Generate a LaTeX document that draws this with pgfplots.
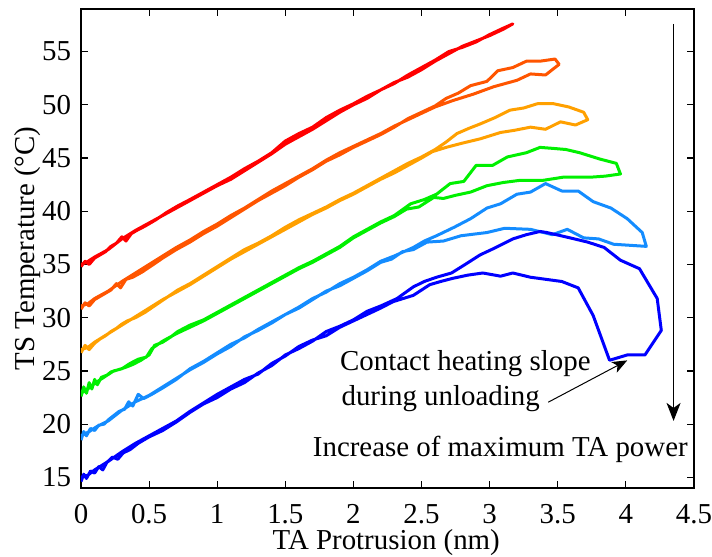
\documentclass[border=0pt]{standalone}
\usepackage{fontspec}
\setmainfont{Liberation Serif}
\usepackage{pgfplots}
\pgfplotsset{compat=1.18}
\usetikzlibrary{arrows.meta}
\definecolor{cR}{HTML}{FF0000}
\definecolor{cRO}{HTML}{FF5500}
\definecolor{cO}{HTML}{FFA000}
\definecolor{cG}{HTML}{00F000}
\definecolor{cLB}{HTML}{148CFF}
\definecolor{cB}{HTML}{0000FF}
\begin{document}
\fontsize{14.5}{17.4}\selectfont
\begin{tikzpicture}
\begin{axis}[
    name=ax,
    scale only axis, width=306.5bp, height=239.5bp,
    xmin=0, xmax=4.5, ymin=14, ymax=59,
    xtick={0,0.5,...,4.5}, ytick={15,20,...,55},
    tick align=inside, major tick length=3.5bp,
    axis line style={line width=0.8pt},
    every tick/.style={black, line width=0.6pt},
    /pgf/number format/assume math mode=true,
    xticklabel={\pgfmathprintnumber{\tick}},
    yticklabel={\pgfmathprintnumber{\tick}},
    xticklabel style={yshift=-3bp},
    xlabel={TA Protrusion (nm)},
    ylabel={TS Temperature (°C)},
    xlabel style={at={(axis description cs:0.498,-0.114)}, anchor=center},
    ylabel style={at={(axis description cs:-0.0865,0.5)}, anchor=center},
    every axis plot/.append style={line width=1.5bp, line join=round, no markers},
]
% red
\addplot[cR] coordinates {
(0,34.8)(0.03,35.3)(0.06,35.0)(0.1,35.6)(0.14,35.9)(0.18,36.2)(0.22,36.7)(0.26,37.0)(0.30,37.6)(0.33,37.2)(0.37,37.9)(0.41,38.2)(0.47,38.6)(0.55,39.2)(0.63,39.9)(0.71,40.5)(0.80,41.1)(0.90,41.8)(1.00,42.5)(1.10,43.2)(1.20,44.0)(1.30,44.7)(1.40,45.5)(1.50,46.6)(1.60,47.3)(1.70,47.9)(1.80,48.8)(1.90,49.5)(2.00,50.1)(2.10,50.8)(2.20,51.4)(2.30,52.0)(2.40,52.8)(2.50,53.5)(2.60,54.2)(2.70,55.0)(2.80,55.4)(2.90,55.9)(3.00,56.6)(3.10,57.2)(3.17,57.6)
(3.10,57.1)(3.00,56.5)(2.90,56.0)(2.80,55.5)(2.70,54.8)(2.60,54.1)(2.50,53.3)(2.40,52.6)(2.30,52.1)(2.20,51.4)(2.10,50.6)(2.00,50.0)(1.90,49.3)(1.80,48.5)(1.70,47.7)(1.60,47.0)(1.50,46.3)(1.40,45.4)(1.30,44.6)(1.20,43.8)(1.10,43.0)(1.00,42.4)(0.90,41.7)(0.80,41.0)(0.70,40.3)(0.60,39.6)(0.50,38.9)(0.40,38.2)(0.30,37.4)(0.20,36.4)(0.10,35.7)(0.04,35.2)(0,35.0)
};
% orange-red
\addplot[cRO] coordinates {
(0,30.8)(0.03,31.4)(0.06,31.1)(0.1,31.7)(0.14,32.0)(0.18,32.3)(0.22,32.6)(0.26,33.2)(0.29,32.8)(0.33,33.6)(0.38,33.8)(0.45,34.3)(0.52,34.9)(0.60,35.6)(0.70,36.4)(0.80,37.1)(0.90,37.9)(1.00,38.6)(1.10,39.4)(1.20,40.2)(1.30,41.0)(1.40,41.7)(1.50,42.4)(1.60,43.2)(1.70,43.9)(1.80,44.7)(1.90,45.3)(2.00,46.0)(2.10,46.6)(2.20,47.2)(2.30,47.9)(2.40,48.7)(2.50,49.3)(2.60,49.9)(2.68,50.6)(2.77,51.1)(2.86,51.8)(2.98,52.2)(3.06,53.2)(3.17,53.5)(3.27,54.1)(3.37,54.1)(3.48,54.3)(3.51,53.8)
(3.41,52.8)(3.30,52.9)(3.20,52.3)(3.03,51.7)(2.88,51.0)(2.73,50.4)(2.60,49.8)(2.50,49.2)(2.40,48.6)(2.30,48.0)(2.20,47.3)(2.10,46.7)(2.00,46.1)(1.90,45.5)(1.80,44.8)(1.70,44.0)(1.60,43.3)(1.50,42.6)(1.40,41.9)(1.30,41.1)(1.20,40.3)(1.10,39.6)(1.00,38.8)(0.90,38.1)(0.80,37.3)(0.70,36.6)(0.60,35.8)(0.50,35.0)(0.40,34.2)(0.30,33.4)(0.20,32.5)(0.10,31.8)(0.05,31.3)(0,31.1)
};
% orange
\addplot[cO] coordinates {
(0,26.7)(0.03,27.4)(0.06,27.0)(0.10,27.6)(0.14,28.0)(0.18,28.3)(0.22,28.7)(0.26,29.0)(0.30,29.4)(0.34,29.7)(0.40,30.0)(0.47,30.5)(0.55,31.2)(0.63,31.9)(0.71,32.6)(0.80,33.2)(0.90,34.0)(1.00,34.8)(1.10,35.6)(1.20,36.4)(1.30,37.0)(1.40,37.7)(1.50,38.5)(1.60,39.2)(1.70,39.8)(1.80,40.4)(1.90,41.1)(2.00,41.7)(2.10,42.4)(2.20,43.1)(2.30,43.8)(2.40,44.5)(2.50,45.1)(2.60,45.8)(2.68,46.5)(2.76,47.3)(2.85,47.8)(2.93,48.2)(3.04,48.8)(3.15,49.5)(3.25,49.7)(3.35,50.1)(3.47,50.1)(3.58,49.8)(3.69,49.3)(3.72,48.6)
(3.63,48.1)(3.52,48.4)(3.41,47.7)(3.30,47.9)(3.18,47.6)(3.08,47.4)(2.93,46.8)(2.80,46.4)(2.68,46.0)(2.58,45.6)(2.50,45.0)(2.40,44.3)(2.30,43.6)(2.20,43.0)(2.10,42.3)(2.00,41.6)(1.90,41.0)(1.80,40.3)(1.70,39.7)(1.60,39.0)(1.50,38.3)(1.40,37.6)(1.30,36.9)(1.20,36.2)(1.10,35.5)(1.00,34.7)(0.90,33.9)(0.80,33.1)(0.70,32.4)(0.60,31.7)(0.50,30.9)(0.40,30.1)(0.30,29.3)(0.20,28.5)(0.10,27.7)(0.05,27.2)(0,27.0)
};
% green
\addplot[cG] coordinates {
(0,22.6)(0.02,23.5)(0.04,22.9)(0.06,23.9)(0.08,23.3)(0.10,24.2)(0.12,23.7)(0.15,24.4)(0.19,24.6)(0.22,24.9)(0.27,25.1)(0.32,25.3)(0.38,25.6)(0.44,26.0)(0.50,26.5)(0.54,27.4)(0.60,27.7)(0.66,28.2)(0.71,28.7)(0.80,29.3)(0.90,29.8)(1.00,30.5)(1.10,31.2)(1.20,31.9)(1.30,32.6)(1.40,33.3)(1.50,34.0)(1.60,34.7)(1.70,35.3)(1.80,36.0)(1.90,36.7)(2.00,37.6)(2.10,38.3)(2.20,39.0)(2.30,39.6)(2.42,40.7)(2.52,41.1)(2.61,41.6)(2.71,42.6)(2.81,42.8)(2.90,44.3)(3.02,44.3)(3.13,45.1)(3.27,45.5)(3.37,46.0)(3.47,45.9)(3.56,45.8)(3.66,45.5)(3.81,44.9)(3.93,44.5)(3.96,43.5)
(3.85,43.3)(3.74,43.2)(3.54,43.2)(3.39,42.9)(3.22,42.9)(3.10,42.7)(2.98,42.4)(2.86,41.8)(2.75,41.5)(2.66,41.2)(2.59,41.3)(2.48,40.4)(2.39,40.2)(2.30,39.5)(2.20,38.9)(2.10,38.2)(2.00,37.5)(1.90,36.6)(1.80,35.9)(1.70,35.2)(1.60,34.6)(1.50,33.9)(1.40,33.2)(1.30,32.5)(1.20,31.8)(1.10,31.1)(1.00,30.4)(0.90,29.7)(0.80,29.1)(0.70,28.5)(0.60,27.8)(0.52,27.1)(0.48,26.3)(0.42,26.1)(0.36,25.7)(0.30,25.2)(0.24,25.0)(0.18,24.5)(0.12,24.0)(0.06,23.4)(0,22.9)
};
% light blue
\addplot[cLB] coordinates {
(0,18.5)(0.02,19.3)(0.04,18.9)(0.07,19.6)(0.10,19.4)(0.13,19.9)(0.17,20.0)(0.20,20.4)(0.24,20.8)(0.28,21.2)(0.32,21.4)(0.35,22.1)(0.38,21.7)(0.42,22.8)(0.46,22.4)(0.52,22.8)(0.60,23.4)(0.70,24.2)(0.80,25.2)(0.90,25.9)(1.00,26.7)(1.10,27.5)(1.20,28.1)(1.30,28.9)(1.40,29.6)(1.50,30.3)(1.60,31.0)(1.70,31.8)(1.80,32.4)(1.90,33.2)(2.00,33.8)(2.10,34.5)(2.20,35.3)(2.30,35.8)(2.44,36.6)(2.52,37.2)(2.61,37.7)(2.74,38.5)(2.86,39.3)(2.98,40.3)(3.08,40.7)(3.20,41.6)(3.30,41.8)(3.41,42.6)(3.53,41.9)(3.65,41.9)(3.76,40.9)(3.89,40.3)(4.01,39.3)(4.12,38.0)(4.15,36.7)
(3.91,36.9)(3.80,37.4)(3.69,37.5)(3.57,38.3)(3.46,37.8)(3.30,38.3)(3.11,38.4)(2.98,38.0)(2.79,37.7)(2.66,37.2)(2.54,37.1)(2.44,36.4)(2.36,36.2)(2.28,35.5)(2.20,35.2)(2.10,34.4)(2.00,33.7)(1.90,33.0)(1.80,32.5)(1.70,31.7)(1.60,30.9)(1.50,30.3)(1.40,29.5)(1.30,28.8)(1.20,28.2)(1.10,27.3)(1.00,26.6)(0.90,25.8)(0.80,25.1)(0.70,24.3)(0.60,23.5)(0.50,22.7)(0.40,22.1)(0.30,21.3)(0.20,20.3)(0.12,19.8)(0.06,19.3)(0,18.9)
};
% blue
\addplot[cB] coordinates {
(0,14.6)(0.02,15.3)(0.04,14.9)(0.07,15.6)(0.10,15.4)(0.13,16.0)(0.16,15.7)(0.19,16.4)(0.23,16.9)(0.27,16.7)(0.31,17.3)(0.36,17.6)(0.42,18.2)(0.50,18.8)(0.60,19.4)(0.70,20.2)(0.80,21.1)(0.90,21.9)(1.00,22.5)(1.10,23.3)(1.20,23.9)(1.30,24.8)(1.40,25.5)(1.50,26.5)(1.60,27.1)(1.70,27.8)(1.80,28.7)(1.90,29.2)(2.00,29.8)(2.10,30.6)(2.20,31.1)(2.32,31.8)(2.44,32.9)(2.52,33.4)(2.61,33.8)(2.72,34.2)(2.82,35.0)(2.93,35.9)(3.03,36.5)(3.17,37.4)(3.27,37.8)(3.37,38.1)(3.42,38.0)(3.59,37.5)(3.72,37.1)(3.84,36.6)(3.96,35.4)(4.10,34.6)(4.23,31.8)(4.26,28.8)(4.14,26.5)(4.01,26.5)(3.88,26.0)
(3.76,30.2)(3.65,32.8)(3.53,33.4)(3.30,33.8)(3.17,34.2)(3.08,33.9)(2.95,34.2)(2.84,34.0)(2.73,33.7)(2.64,33.4)(2.56,33.1)(2.44,32.1)(2.29,31.5)(2.20,30.9)(2.10,30.3)(2.00,29.7)(1.90,29.1)(1.80,28.3)(1.70,27.9)(1.60,27.3)(1.50,26.4)(1.40,25.7)(1.30,24.7)(1.20,24.2)(1.10,23.5)(1.00,22.8)(0.90,22.0)(0.80,21.2)(0.70,20.3)(0.60,19.6)(0.50,18.9)(0.40,18.2)(0.30,17.4)(0.20,16.5)(0.10,15.7)(0.05,15.2)(0,15.0)
};
% annotations
\draw[line width=0.7bp, -{Stealth[length=9bp,width=7bp,inset=2.5bp]}] (axis cs:4.35,57.6) -- (axis cs:4.35,20.3);
\draw[line width=0.5bp, -{Stealth[length=7.5bp,width=6bp,inset=2bp]}] (axis cs:3.43,22.06) -- (axis cs:4.01,25.99);
\node[anchor=base west, inner sep=0pt] at (axis cs:1.90,25.05) {Contact heating slope};
\node[anchor=base west, inner sep=0pt] at (axis cs:1.91,21.75) {during unloading};
\node[anchor=base west, inner sep=0pt] at (axis cs:1.70,16.98) {Increase of maximum TA power};
\end{axis}
\pgfresetboundingbox
\path ([shift={(-40.5bp,-34.5bp)}]ax.south west) rectangle ([shift={(9bp,4.5bp)}]ax.north east);
\end{tikzpicture}
\end{document}
